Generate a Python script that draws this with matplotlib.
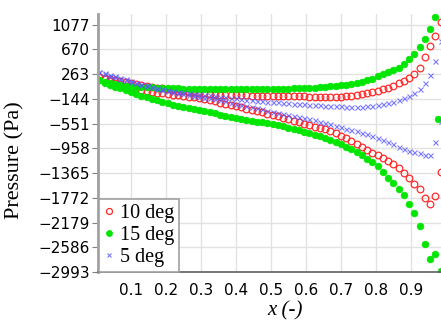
import matplotlib
matplotlib.use("Agg")
import matplotlib.pyplot as plt

# chordwise positions (shared by all series)
x = [0.010, 0.025, 0.040, 0.055, 0.070, 0.085, 0.100, 0.115, 0.130, 0.145,
     0.160, 0.175, 0.190, 0.205, 0.220, 0.235, 0.250, 0.265, 0.280, 0.295,
     0.310, 0.325, 0.340, 0.355, 0.370, 0.385, 0.400, 0.415, 0.430, 0.445,
     0.460, 0.475, 0.490, 0.505, 0.520, 0.535, 0.550, 0.565, 0.580, 0.595,
     0.610, 0.625, 0.640, 0.655, 0.670, 0.685, 0.700, 0.715, 0.730, 0.745,
     0.760, 0.775, 0.790, 0.805, 0.820, 0.835, 0.850, 0.865, 0.880, 0.895,
     0.910, 0.925, 0.940, 0.955, 0.970, 0.985]

# 10 deg
p10_a = [207, 191, 178, 166, 150, 133, 115, 97, 79, 66,
         51, 38, 27, 14, -1, -11, -19, -29, -37, -45,
         -54, -62, -72, -76, -80, -83, -86, -88, -90, -91,
         -93, -95, -96, -98, -100, -101, -103, -105, -105, -106,
         -108, -109, -109, -111, -113, -113, -111, -105, -96, -83,
         -72, -55, -36, -11, 10, 35, 68, 109, 150, 199,
         265, 355, 535, 716, 896, 1126]
p10_b = [207, 174, 142, 112, 91, 69, 46, 27, 7, -11,
         -29, -44, -55, -65, -75, -86, -98, -108, -119, -134,
         -152, -168, -187, -206, -226, -246, -267, -287, -308, -328,
         -347, -367, -388, -410, -433, -456, -480, -507, -531, -557,
         -580, -602, -621, -646, -674, -712, -753, -794, -843, -889,
         -935, -982, -1028, -1072, -1119, -1165, -1220, -1286, -1368, -1454,
         -1549, -1631, -1770, -1877, -1746, -1352]

# 15 deg
p15_a = [158, 125, 109, 92, 76, 68, 60, 55, 51, 43,
         43, 38, 35, 32, 27, 27, 24, 22, 19, 19,
         17, 14, 10, 10, 10, 10, 10, 10, 10, 10,
         10, 10, 14, 15, 19, 20, 24, 27, 27, 32,
         35, 40, 43, 51, 60, 68, 76, 84, 92, 109,
         132, 158, 182, 224, 257, 298, 330, 363, 421, 503,
         593, 708, 847, 1011, 1208, 1405]
p15_b = [158, 109, 76, 51, 27, -6, -39, -72, -96, -121,
         -146, -170, -203, -219, -244, -260, -277, -293, -318, -334,
         -351, -367, -384, -408, -425, -441, -457, -474, -487, -507,
         -523, -531, -548, -564, -580, -597, -621, -638, -662, -687,
         -712, -736, -761, -794, -826, -859, -892, -933, -974, -1023,
         -1072, -1130, -1187, -1253, -1352, -1442, -1532, -1631, -1729, -1877,
         -2024, -2238, -2533, -2779, -2697, -2976]
x15_te = [0.976]
p15_te = [-482]

# 5 deg
p5_a = [298, 273, 248, 224, 197, 173, 148, 120, 97, 76,
        55, 35, 17, -1, -17, -31, -40, -52, -62, -72,
        -80, -88, -98, -109, -119, -131, -139, -147, -157, -165,
        -173, -181, -190, -198, -205, -211, -218, -224, -231, -237,
        -244, -249, -252, -257, -260, -265, -269, -273, -277, -277,
        -275, -270, -264, -252, -236, -216, -190, -164, -129, -93,
        -47, 22, 109, 240, 470, 798]
p5_b = [298, 267, 237, 211, 188, 163, 138, 112, 86, 64,
        43, 22, 0, -17, -34, -50, -65, -80, -96, -111,
        -126, -139, -154, -170, -188, -206, -223, -239, -257, -277,
        -296, -318, -338, -357, -377, -393, -410, -426, -446, -464,
        -480, -498, -518, -539, -564, -590, -616, -638, -659, -679,
        -703, -728, -758, -787, -817, -851, -889, -930, -969, -1002,
        -1023, -1040, -1064, -1064, -859, -515]

labels = ["10 deg", "15 deg", "5 deg"]
yticks = [1077, 670, 263, -144, -551, -958, -1365, -1772, -2179, -2586, -2993]
xticks = [0.1, 0.2, 0.3, 0.4, 0.5, 0.6, 0.7, 0.8, 0.9]

fig = plt.figure(figsize=(4.41, 3.23), dpi=100)
ax = fig.add_axes([98/441, 51/323, 343/441, 258/323])

red_kw = dict(ls="none", marker="o", ms=4.8, mfc="none", mec="#ff2a2a", mew=0.9)
grn_kw = dict(ls="none", marker="o", ms=4.8, mfc="#00e600", mec="#00e600", mew=0.5)
blu_kw = dict(ls="none", marker="x", ms=3.6, color="#5a5aff", mew=0.8, alpha=0.8)

ax.plot(x, p10_a, label=labels[0], **red_kw)
ax.plot(x, p10_b, **red_kw)
ax.plot(x, p15_a, label=labels[1], **grn_kw)
ax.plot(x, p15_b, **grn_kw)
ax.plot(x15_te, p15_te, **grn_kw)
ax.plot(x, p5_a, label=labels[2], **blu_kw)
ax.plot(x, p5_b, **blu_kw)

ax.set_xlim(0.006, 0.986)
ax.set_ylim(-2993, 1250)
ax.set_yticks(yticks)
ax.set_yticklabels([("\u2212" + str(-v)) if v < 0 else str(v) for v in yticks])
ax.set_xticks(xticks)
ax.set_xticklabels([str(v) for v in xticks])
ax.grid(True, color="#e2e2e2", lw=1.0)
ax.set_axisbelow(True)

for s in ["top", "right"]:
    ax.spines[s].set_visible(False)
ax.spines["left"].set_color("#a0a0a0")
ax.spines["left"].set_linewidth(2.0)
ax.spines["bottom"].set_color("#606060")
ax.spines["bottom"].set_linewidth(1.2)

ax.tick_params(axis="y", length=4, color="#808080", labelsize=11, pad=2)
ax.tick_params(axis="x", length=0, labelsize=11, pad=8)
for t in ax.get_xticklabels() + ax.get_yticklabels():
    t.set_fontfamily("DejaVu Sans")

ax.set_ylabel("Pressure (Pa)", fontsize=16, family="Liberation Serif")
ax.yaxis.set_label_coords(-0.215, 0.434)
ax.set_xlabel("x (-)", fontsize=15, family="Liberation Serif", style="italic")
ax.xaxis.set_label_coords(0.545, -0.115)

leg = ax.legend(loc="lower left", bbox_to_anchor=(0.004, 0.0), fancybox=False,
                edgecolor="#a0a0a0", framealpha=1, borderaxespad=0,
                handlelength=0.5, handletextpad=0.25, borderpad=0.25,
                labelspacing=0.15, prop={"family": "Liberation Serif", "size": 14.5},
                markerscale=0.9)
leg.get_frame().set_linewidth(1.2)

fig.savefig("out.png", dpi=100)
